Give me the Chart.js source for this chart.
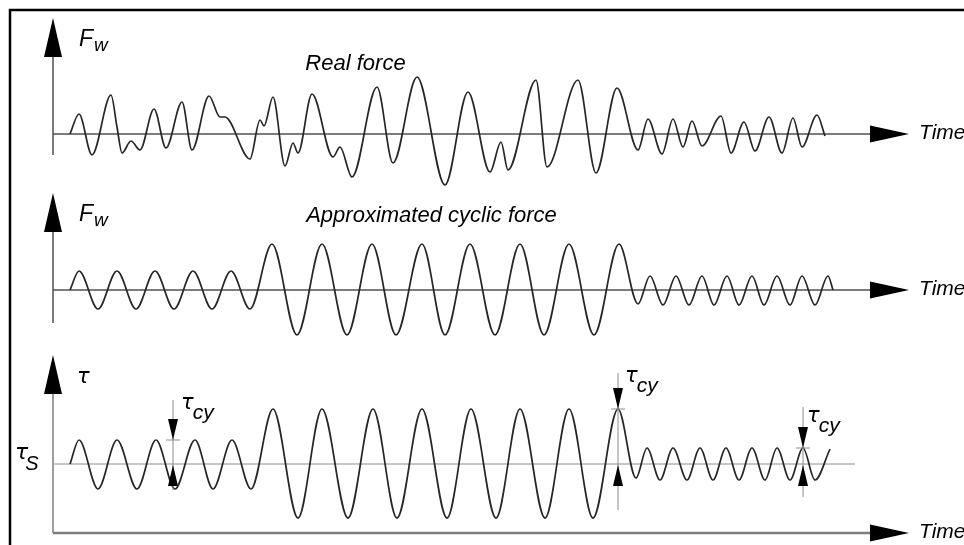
<!DOCTYPE html>
<html><head><meta charset="utf-8">
<script src="https://cdn.jsdelivr.net/npm/chart.js@4.4.0/dist/chart.umd.min.js"></script>
<style>html,body{margin:0;padding:0;background:#fff;overflow:hidden}canvas{display:block}</style>
</head><body>
<canvas id="c" width="964" height="545"></canvas>
<script>
// ---------- DATA ----------
// Panel 1: real (irregular) force, time vs F_w
const realTime = [1.7,2.6,3.9,5.8,6.4,6.9,7.8,8.7,10.1,11.3,12.9,13.9,15.6,16.7,17.2,19.7,20.7,21.1,22.0,23.2,24.0,24.5,25.9,28.0,28.7,29.9,32.4,34.0,36.4,39.2,41.5,43.7,44.8,45.5,48.3,49.4,52.5,54.3,56.4,58.5,59.5,60.9,62.0,63.0,63.9,64.9,66.8,67.8,69.1,70.2,71.6,72.9,74.0,74.9,76.4,77.2];
const realForce = [0,2.0,-2.1,3.9,0.7,-1.9,-0.7,-1.6,2.5,-1.4,3.2,-1.6,3.8,1.7,1.7,-2.5,1.4,0.8,3.7,-3.2,-0.9,-1.9,4.0,-2.3,-1.3,-4.3,4.7,-2.9,5.7,-5.1,4.2,-3.8,-0.8,-3.6,5.4,-3.3,5.4,-3.9,4.6,-1.6,1.5,-2.0,1.5,-1.3,1.3,-1.2,1.8,-1.9,1.2,-1.7,1.7,-1.9,1.6,-1.3,1.9,-0.2];

// Panel 2: approximated cyclic force (peaks and troughs)
const cyclicTime = [1.7,2.6,4.5,6.4,8.3,10.2,12.1,14.0,15.9,17.8,19.7,21.9,24.4,26.9,29.4,31.9,34.3,36.9,39.2,41.7,44.2,46.7,49.1,51.6,54.1,56.6,58.5,59.7,61.0,62.3,63.6,64.9,66.1,67.4,68.6,69.9,71.1,72.4,73.7,74.9,76.2,77.5,78.0];
const cyclicForce = [0,1.9,-1.9,1.9,-1.9,1.9,-1.9,1.9,-1.9,1.9,-1.9,4.6,-4.5,4.6,-4.5,4.6,-4.5,4.6,-4.5,4.6,-4.5,4.6,-4.5,4.6,-4.5,4.6,-1.4,1.4,-1.5,1.4,-1.5,1.4,-1.5,1.4,-1.5,1.4,-1.5,1.4,-1.5,1.4,-1.5,1.4,0];

// Panel 3: shear stress tau (peaks and troughs)
const tauTime = [1.7,2.6,4.5,6.4,8.4,10.3,12.2,14.2,16.0,17.9,19.8,22.0,24.5,26.9,29.5,32.0,34.4,36.9,39.4,41.8,44.3,46.7,49.2,51.6,54.0,56.5,58.3,59.4,60.7,62.0,63.4,64.7,66.0,67.3,68.6,69.9,71.2,72.4,73.7,75.0,76.2,77.7];
const tauValues = [6.9,9.3,4.4,9.3,4.4,9.3,4.4,9.3,4.4,9.3,4.4,12.4,1.5,12.4,1.5,12.4,1.5,12.4,1.5,12.4,1.5,12.4,1.5,12.4,1.5,12.4,5.5,8.5,5.3,8.5,5.3,8.5,5.3,8.5,5.3,8.5,5.3,8.5,5.3,8.5,5.3,8.4];
const tauS = 6.9;           // static shear stress level
const tauSLineEnd = 80.2;   // time where the tau_s reference line ends

// tau_cy markers
const cyTime = [12.0, 56.5, 75.0];
const cyPeak = [9.3, 12.4, 8.5];
const cyLineTop = [13.3, 16.0, 12.6];
const cyLineBottom = [4.3, 2.3, 3.6];

// Texts
const panelTitles = ['Real force', 'Approximated cyclic force'];
const timeLabel = 'Time';
const timeAxisEnd = 85.6;

// ---------- CHART ----------
const toXY = (xs, ys) => xs.map((x, i) => ({x: x, y: ys[i]}));

const FONT = '"Liberation Sans", Arial, sans-serif';
const GREEK = '"DejaVu Sans", sans-serif';

const panels = [
  {axis: 'y1', tipUp: 116, below: 21, hColor: '#505050', hWidth: 1.5, vColor: '#505050', sym: 'F', sub: 'w'},
  {axis: 'y2', tipUp: 97, below: 33, hColor: '#505050', hWidth: 1.5, vColor: '#505050', sym: 'F', sub: 'w'},
  {axis: 'y3', tipUp: 178, below: 0, hColor: '#7d7d7d', hWidth: 2.5, vColor: '#7d7d7d', sym: '\u03C4', sub: ''}
];

function tri(ctx, pts) {
  ctx.beginPath();
  ctx.moveTo(pts[0][0], pts[0][1]);
  ctx.lineTo(pts[1][0], pts[1][1]);
  ctx.lineTo(pts[2][0], pts[2][1]);
  ctx.closePath();
  ctx.fill();
}

function symLabel(ctx, x, y, sym, sub, size, subSize, subDy, family, gap) {
  ctx.font = 'italic ' + size + 'px ' + (family || FONT);
  ctx.fillText(sym, x, y);
  const w = ctx.measureText(sym).width;
  if (sub) {
    ctx.font = 'italic ' + subSize + 'px ' + FONT;
    ctx.fillText(sub, x + w + (gap || 0), y + subDy);
  }
}

const decor = {
  id: 'decor',
  beforeDatasetsDraw(chart) {
    const {ctx, scales} = chart;
    const xs = scales.x;
    const x0 = xs.getPixelForValue(0);
    const xTip = xs.getPixelForValue(timeAxisEnd);
    ctx.save();
    // frame border
    ctx.strokeStyle = '#000';
    ctx.lineWidth = 2.5;
    ctx.beginPath();
    ctx.moveTo(10, 548); ctx.lineTo(10, 10); ctx.lineTo(968, 10);
    ctx.stroke();
    panels.forEach(p => {
      const y0 = scales[p.axis].getPixelForValue(0);
      ctx.strokeStyle = p.vColor;
      ctx.lineWidth = 1.5;
      ctx.beginPath();
      ctx.moveTo(x0, y0 + p.below);
      ctx.lineTo(x0, y0 - p.tipUp + 20);
      ctx.stroke();
      ctx.strokeStyle = p.hColor;
      ctx.lineWidth = p.hWidth;
      ctx.beginPath();
      ctx.moveTo(x0, y0);
      ctx.lineTo(xTip - 20, y0);
      ctx.stroke();
    });
    ctx.restore();
  },
  afterDatasetsDraw(chart) {
    const {ctx, scales} = chart;
    const xs = scales.x;
    const x0 = xs.getPixelForValue(0);
    const xTip = xs.getPixelForValue(timeAxisEnd);
    ctx.save();
    ctx.fillStyle = '#000';
    ctx.textAlign = 'left';
    ctx.textBaseline = 'alphabetic';
    panels.forEach((p, i) => {
      const y0 = scales[p.axis].getPixelForValue(0);
      const tipY = y0 - p.tipUp;
      // arrowheads
      tri(ctx, [[x0, tipY], [x0 - 9, tipY + 39], [x0 + 9, tipY + 39]]);
      tri(ctx, [[xTip, y0], [xTip - 39, y0 - 8.5], [xTip - 39, y0 + 8.5]]);
      // Time label
      ctx.font = 'italic 21px ' + FONT;
      ctx.fillText(timeLabel, xTip + 10, y0 + 5);
      // axis symbol
      if (p.sub) symLabel(ctx, x0 + 26, tipY + 28, p.sym, p.sub, 23, 19, 5, FONT, 1);
      else symLabel(ctx, x0 + 24, tipY + 28, p.sym, '', 21, 0, 0, GREEK);
    });
    // panel titles
    ctx.font = 'italic 22px ' + FONT;
    ctx.textAlign = 'center';
    ctx.fillText(panelTitles[0], xs.getPixelForValue(30.25), scales.y1.getPixelForValue(6.4));
    ctx.fillText(panelTitles[1], xs.getPixelForValue(37.85), scales.y2.getPixelForValue(6.8));
    ctx.textAlign = 'left';
    // tau_s label
    const ys3 = scales.y3;
    const yS = ys3.getPixelForValue(tauS);
    symLabel(ctx, 15, yS - 5, '\u03C4', 'S', 22, 20, 11, GREEK, -3);
    // tau_cy markers
    const labelOff = [[8, 9], [7, 9], [4, 15]];
    cyTime.forEach((t, i) => {
      const x = xs.getPixelForValue(t);
      const yTop = ys3.getPixelForValue(cyLineTop[i]);
      const yBot = ys3.getPixelForValue(cyLineBottom[i]);
      const yPk = ys3.getPixelForValue(cyPeak[i]);
      ctx.strokeStyle = '#8c8c8c';
      ctx.lineWidth = 1;
      ctx.beginPath();
      ctx.moveTo(x, yTop); ctx.lineTo(x, yBot);
      ctx.moveTo(x - 7, yPk); ctx.lineTo(x + 7, yPk);
      ctx.stroke();
      ctx.fillStyle = '#000';
      tri(ctx, [[x, yPk], [x - 5, yPk - 21], [x + 5, yPk - 21]]);
      tri(ctx, [[x, yS + 1], [x - 5, yS + 22], [x + 5, yS + 22]]);
      symLabel(ctx, x + labelOff[i][0], yTop + labelOff[i][1], '\u03C4', 'cy', 21, 21, 10, GREEK, -1);
    });
    ctx.restore();
  }
};

const lineStyle = {
  borderColor: '#262626',
  borderWidth: 1.7,
  pointRadius: 0,
  fill: false,
  cubicInterpolationMode: 'monotone'
};

new Chart(document.getElementById('c'), {
  type: 'line',
  data: {
    datasets: [
      Object.assign({label: 'Real force', data: toXY(realTime, realForce), yAxisID: 'y1'}, lineStyle),
      Object.assign({label: 'Approximated cyclic force', data: toXY(cyclicTime, cyclicForce), yAxisID: 'y2'}, lineStyle),
      Object.assign({label: 'tau', data: toXY(tauTime, tauValues), yAxisID: 'y3'}, lineStyle),
      {label: 'tau_s', data: [{x: 0, y: tauS}, {x: tauSLineEnd, y: tauS}], yAxisID: 'y3',
       borderColor: '#8c8c8c', borderWidth: 1, pointRadius: 0, fill: false}
    ]
  },
  options: {
    responsive: false,
    animation: false,
    events: [],
    layout: {padding: 0},
    plugins: {legend: {display: false}, tooltip: {enabled: false}},
    scales: {
      x: {type: 'linear', min: -5.3, max: 91.1, display: false},
      y1: {type: 'linear', min: -41.1, max: 13.4, display: false},
      y2: {type: 'linear', min: -25.5, max: 29.0, display: false},
      y3: {type: 'linear', min: -1.2, max: 53.3, display: false}
    }
  },
  plugins: [decor]
});
</script>
</body></html>
